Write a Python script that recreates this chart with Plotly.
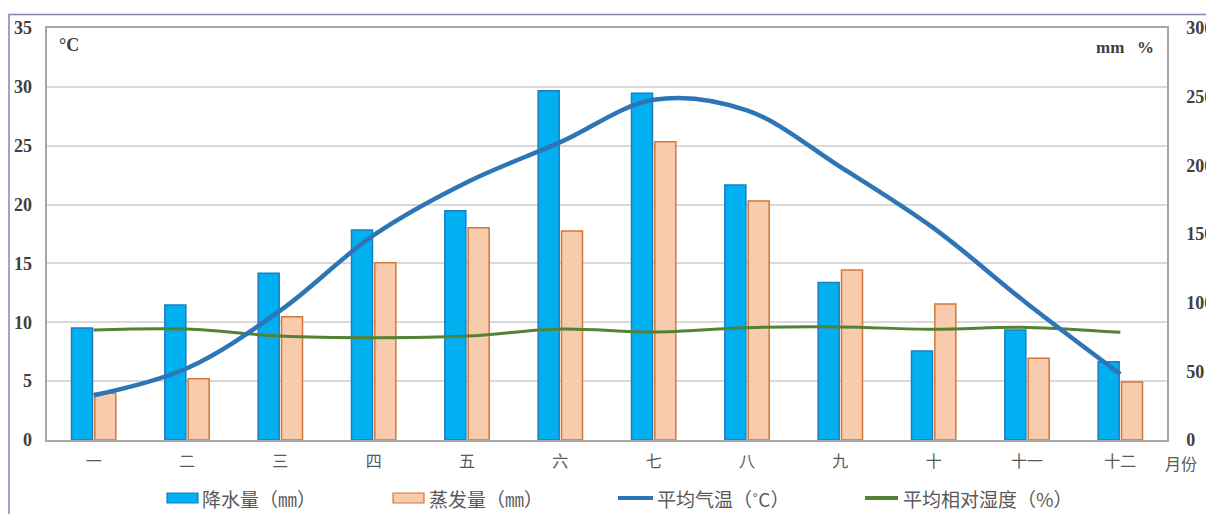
import plotly.graph_objects as go

# Monthly climate data
months = ["一", "二", "三", "四", "五", "六", "七", "八", "九", "十", "十一", "十二"]
precipitation_mm = [81.6, 98.3, 121.4, 152.9, 167.0, 254.3, 252.5, 185.7, 114.6, 64.8, 80.1, 57.0]
evaporation_mm = [34.0, 44.6, 89.8, 129.1, 154.6, 152.2, 217.2, 174.0, 123.8, 99.0, 59.5, 42.2]
temperature_c = [3.8, 6.1, 11.0, 17.4, 21.9, 25.3, 28.9, 28.0, 23.2, 18.0, 11.6, 5.6]
humidity_pct = [80.1, 80.8, 75.7, 74.5, 75.7, 80.8, 78.6, 81.8, 82.3, 80.6, 82.0, 78.4]

left_ticks = [0, 5, 10, 15, 20, 25, 30, 35]
right_ticks = [0, 50, 100, 150, 200, 250, 300]

W, H = 1206, 514
ML, MR, MT, MB = 47, 39, 28, 74
PW, PH = W - ML - MR, H - MT - MB


def px(x):
    return (x - ML) / PW


def py(y):
    return (H - MB - y) / PH


BLUE_BAR = "#00B0F0"
BLUE_EDGE = "#1B7CC2"
ORANGE_BAR = "#F8CBAD"
ORANGE_EDGE = "#D2773A"
TEMP_LINE = "#2E75B6"
HUM_LINE = "#548235"
TEXT_GREY = "#595959"
NUM_FONT = dict(family="Liberation Serif", size=18, color="#404040", weight="bold")
CJK = "Noto Sans CJK SC"

xs = list(range(len(months)))

fig = go.Figure()
fig.add_trace(go.Bar(
    x=xs, y=precipitation_mm, name="降水量（㎜）", yaxis="y",
    marker=dict(color=BLUE_BAR, line=dict(color=BLUE_EDGE, width=1.5)),
))
fig.add_trace(go.Bar(
    x=xs, y=evaporation_mm, name="蒸发量（㎜）", yaxis="y",
    marker=dict(color=ORANGE_BAR, line=dict(color=ORANGE_EDGE, width=1.5)),
))
fig.add_trace(go.Scatter(
    x=xs, y=humidity_pct, name="平均相对湿度（%）", yaxis="y", mode="lines",
    line=dict(color=HUM_LINE, width=3, shape="spline", smoothing=1.0),
))
fig.add_trace(go.Scatter(
    x=xs, y=temperature_c, name="平均气温（˚C）", yaxis="y2", mode="lines",
    line=dict(color=TEMP_LINE, width=4.5, shape="spline", smoothing=1.0),
))

fig.update_layout(
    width=W, height=H,
    margin=dict(l=ML, r=MR, t=MT, b=MB, autoexpand=False),
    paper_bgcolor="white", plot_bgcolor="white",
    showlegend=False,
    barmode="group", bargap=0.5, bargroupgap=0.1,
    xaxis=dict(
        range=[-0.5, 11.5], tickvals=xs, ticktext=months, automargin=False,
        tickfont=dict(family=CJK, size=16, color=TEXT_GREY),
        showgrid=False, showline=True, mirror=True,
        linecolor="#A6A6A6", linewidth=1.5, ticks="", ticklabelstandoff=6,
    ),
    yaxis=dict(
        side="right", range=[0, 300], tickvals=right_ticks, automargin=False,
        tickfont=NUM_FONT, showgrid=False, zeroline=False,
        showline=True, mirror=True, linecolor="#A6A6A6", linewidth=1.5,
        ticks="", ticklabelstandoff=14,
    ),
    yaxis2=dict(
        overlaying="y", side="left", range=[0, 35], tickvals=left_ticks, automargin=False,
        tickfont=NUM_FONT, showgrid=True, gridcolor="#D9D9D9", gridwidth=1.5,
        zeroline=False, showline=False, ticks="", ticklabelstandoff=14,
    ),
)

# Unit labels inside the plot frame and the month caption
fig.add_annotation(x=px(57), y=py(45), xref="paper", yref="paper", text="°C",
                   showarrow=False, xanchor="left", yanchor="middle",
                   font=dict(family="Liberation Serif", size=18, color="#404040", weight="bold"))
fig.add_annotation(x=px(1156), y=py(48), xref="paper", yref="paper", text="mm   %",
                   showarrow=False, xanchor="right", yanchor="middle",
                   font=dict(family="Liberation Serif", size=17, color="#404040", weight="bold"))
fig.add_annotation(x=px(1181), y=py(463), xref="paper", yref="paper", text="月份",
                   showarrow=False, xanchor="center", yanchor="middle",
                   font=dict(family=CJK, size=16, color=TEXT_GREY))

# Legend row
LEG_Y = 498
legend_font = dict(family=CJK, size=19, color=TEXT_GREY)
fig.add_shape(type="rect", xref="paper", yref="paper",
              x0=px(167), x1=px(198), y0=py(493), y1=py(503),
              fillcolor=BLUE_BAR, line=dict(color=BLUE_EDGE, width=1.2))
fig.add_annotation(x=px(200), y=py(LEG_Y), xref="paper", yref="paper", text="降水量（㎜）",
                   showarrow=False, xanchor="left", yanchor="middle", font=legend_font)
fig.add_shape(type="rect", xref="paper", yref="paper",
              x0=px(393), x1=px(424), y0=py(493), y1=py(503),
              fillcolor=ORANGE_BAR, line=dict(color=ORANGE_EDGE, width=1.2))
fig.add_annotation(x=px(427), y=py(LEG_Y), xref="paper", yref="paper", text="蒸发量（㎜）",
                   showarrow=False, xanchor="left", yanchor="middle", font=legend_font)
fig.add_shape(type="line", xref="paper", yref="paper",
              x0=px(618), x1=px(653), y0=py(LEG_Y), y1=py(LEG_Y),
              line=dict(color=TEMP_LINE, width=4))
fig.add_annotation(x=px(655), y=py(LEG_Y), xref="paper", yref="paper", text="平均气温（˚C）",
                   showarrow=False, xanchor="left", yanchor="middle", font=legend_font)
fig.add_shape(type="line", xref="paper", yref="paper",
              x0=px(865), x1=px(898), y0=py(LEG_Y), y1=py(LEG_Y),
              line=dict(color=HUM_LINE, width=4))
fig.add_annotation(x=px(901), y=py(LEG_Y), xref="paper", yref="paper", text="平均相对湿度（%）",
                   showarrow=False, xanchor="left", yanchor="middle", font=legend_font)

# Outer chart frame
fig.add_shape(type="rect", xref="paper", yref="paper",
              x0=px(9), x1=px(1230), y0=py(14.5), y1=py(540),
              line=dict(color="#8585B5", width=1.5), fillcolor="rgba(0,0,0,0)")

fig.write_html("out.html")
